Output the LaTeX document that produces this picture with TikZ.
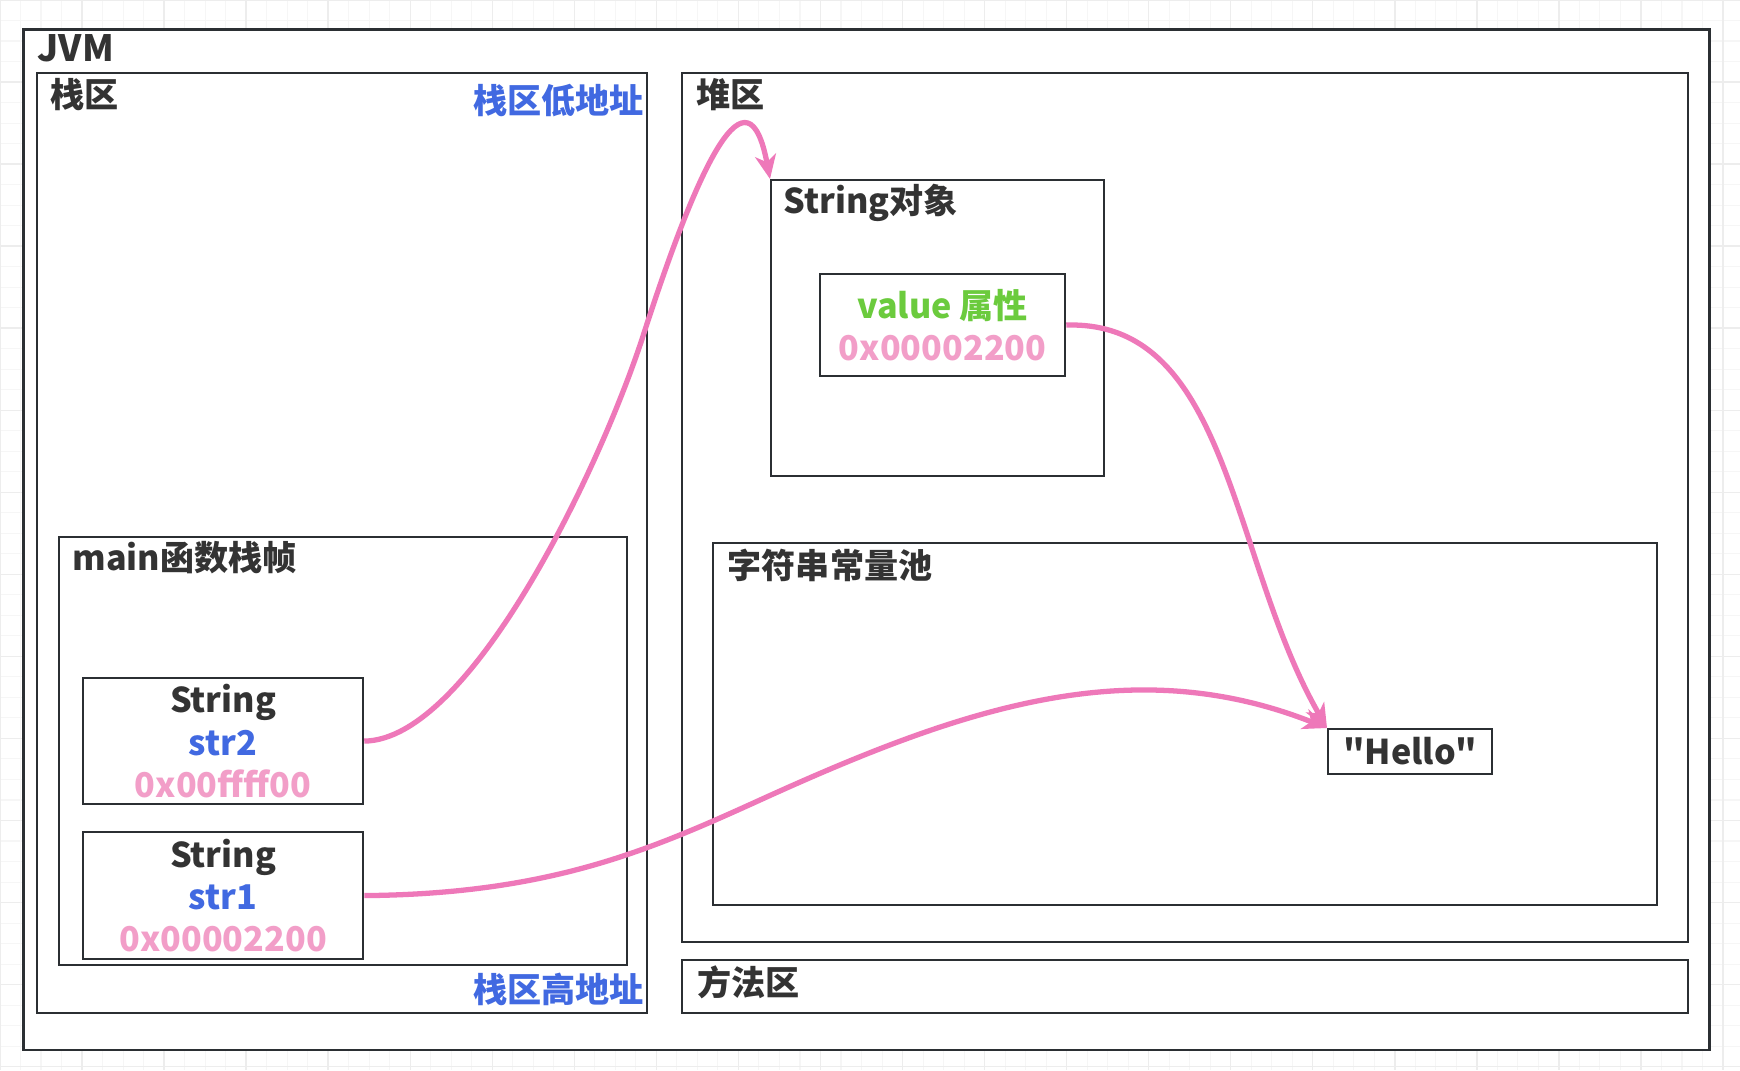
\documentclass[tikz,border=0pt]{standalone}
\usepackage{fontspec}
\newfontfamily\cjk{Noto Sans CJK SC}
\usetikzlibrary{arrows.meta}
\definecolor{ink}{HTML}{333333}
\definecolor{boxline}{HTML}{2B2F33}
\definecolor{addrblue}{HTML}{4169E1}
\definecolor{valpink}{HTML}{F29EC8}
\definecolor{valgreen}{HTML}{6BCB3D}
\definecolor{refpink}{HTML}{EE78B9}

\begin{document}
\begin{tikzpicture}[
  x=0.01cm,y=-0.01cm,
  font=\cjk\bfseries\fontsize{9.7}{12}\selectfont,
  area/.style={draw=boxline,line width=0.6pt,fill=white,anchor=north west,inner sep=0pt},
  cell/.style={area,align=center,text=ink},
  tag/.style={anchor=west,inner sep=0pt,text=ink},
  addr/.style={tag,anchor=east,text=addrblue},
  ref/.style={-{Stealth[length=2.4mm,width=2.1mm,inset=0.7mm]},draw=refpink,line width=1.5pt},
  minor/.style={draw=gray!7,line width=0.3pt},
  major/.style={draw=gray!14,line width=0.4pt},
]
% page and grid paper
\fill[white] (0,0) rectangle (1740,1070);
\useasboundingbox (0,0) rectangle (1740,1070);
\draw[minor,step=0.205cm] (0,0) grid (1740,1070);
\draw[major,step=0.82cm] (0,0) grid (1740,1070);

% JVM and its areas
\node[area,line width=0.8pt,minimum width=16.85cm,minimum height=10.20cm] (jvm) at (22,28) {};
\node[tag,font=\cjk\bfseries\fontsize{10.3}{12}\selectfont] (jvmtag) at ([shift={(15,20)}]jvm.north west) {JVM};

% stack
\node[area,minimum width=6.10cm,minimum height=9.39cm] (stack) at (36,72) {};
\node[tag] (stacktag) at ([shift={(14,23)}]stack.north west) {栈区};
\node[addr] (lowaddr) at ([shift={(-4,29)}]stack.north east) {栈区低地址};
\node[addr] (highaddr) at ([shift={(-4,-24)}]stack.south east) {栈区高地址};

\node[area,minimum width=5.68cm,minimum height=4.28cm] (frame) at (58,536) {};
\node[tag] (frametag) at ([shift={(14,22)}]frame.north west) {main函数栈帧};
\node[cell,minimum width=2.80cm,minimum height=1.26cm] (str2) at (82,677)
  {String\\\textcolor{addrblue}{str2}\\\textcolor{valpink}{0x00ffff00}};
\node[cell,minimum width=2.80cm,minimum height=1.27cm] (str1) at (82,831)
  {String\\\textcolor{addrblue}{str1}\\\textcolor{valpink}{0x00002200}};

% heap
\node[area,minimum width=10.05cm,minimum height=8.68cm] (heap) at (681,72) {};
\node[tag] (heaptag) at ([shift={(15,23)}]heap.north west) {堆区};

\node[area,minimum width=3.33cm,minimum height=2.96cm] (obj) at (770,179) {};
\node[tag] (objtag) at ([shift={(13,24)}]obj.north west) {String对象};
\node[cell,minimum width=2.45cm,minimum height=1.02cm] (value) at (819,273)
  {\textcolor{valgreen}{value 属性}\\\textcolor{valpink}{0x00002200}};

\node[area,minimum width=9.43cm,minimum height=3.62cm] (pool) at (712,542) {};
\node[tag] (pooltag) at ([shift={(15,23)}]pool.north west) {字符串常量池};
\node[cell,minimum width=1.64cm,minimum height=0.45cm] (hello) at (1327,728) {"Hello"};

% method area
\node[area,minimum width=10.05cm,minimum height=0.53cm] (method) at (681,959) {};
\node[tag] (methodtag) at ([shift={(16,23)}]method.north west) {方法区};

% references
\draw[ref] (str2.east) .. controls (470,740) and (600,470) .. (644,333)
  .. controls (700,160) and (748,62) .. (obj.north west);
\draw[ref] (value.east) .. controls (1230,320) and (1230,560) .. (hello.north west);
\draw[ref] (str1.east) .. controls (550,894) and (650,850) .. (760,800)
  .. controls (960,709) and (1130,650) .. (hello.north west);
\end{tikzpicture}
\end{document}
